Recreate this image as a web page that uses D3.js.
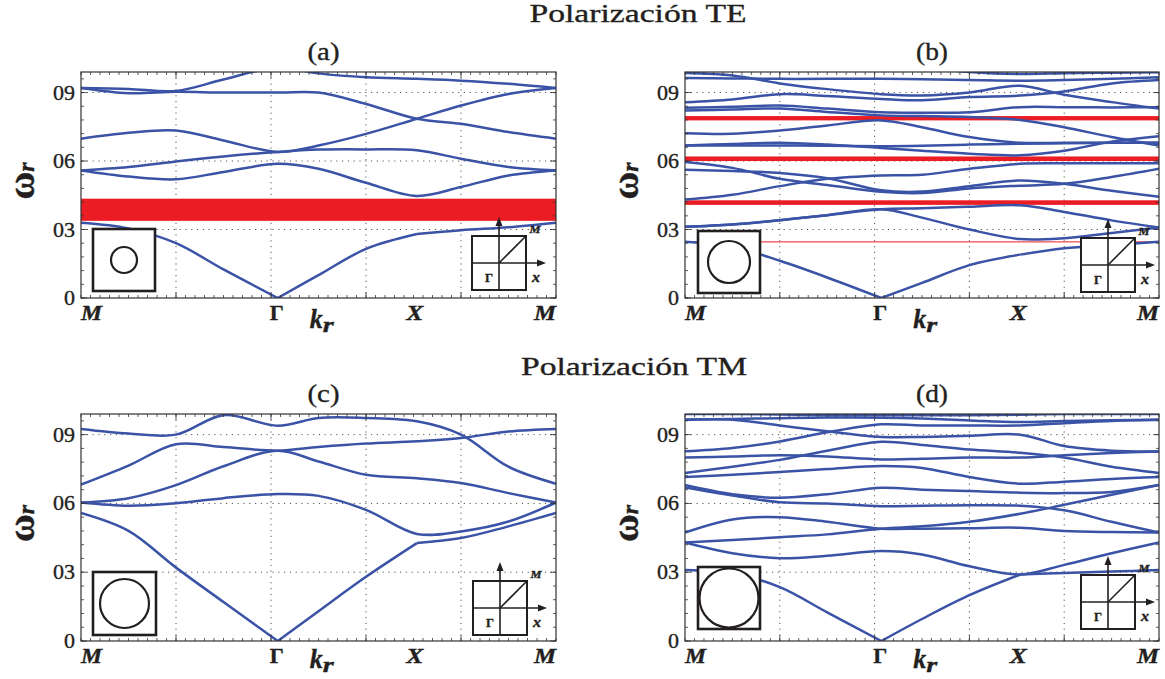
<!DOCTYPE html>
<html>
<head>
<meta charset="utf-8">
<script src="https://cdn.jsdelivr.net/npm/d3@7"></script>
<style>
  body { margin: 0; background: #fff; }
  svg { display: block; }
</style>
</head>
<body>
<svg width="1165" height="679"></svg>
<script>
// k-path positions along M - Gamma - X - M (normalised length)
const kPath = [0, 0.1, 0.2, 0.3, 0.4142, 0.5, 0.6, 0.7071, 0.8, 0.9, 1];
const kLabels = ["M", "Γ", "X", "M"];
const kLabelPos = [0, 0.4142, 0.7071, 1];
const yTicks = [0, 0.3, 0.6, 0.9];
const yTickLabels = ["0", "03", "06", "09"];
const xGrid = [0.2, 0.4, 0.6, 0.8];

// (a) TE, small rod
const bandsA = [
  [0.33, 0.305, 0.24, 0.125, 0.0, 0.10, 0.215, 0.28, 0.297, 0.31, 0.33],
  [0.559, 0.532, 0.52, 0.552, 0.588, 0.566, 0.505, 0.447, 0.486, 0.537, 0.559],
  [0.559, 0.574, 0.598, 0.62, 0.64, 0.65, 0.651, 0.647, 0.61, 0.574, 0.559],
  [0.698, 0.724, 0.734, 0.69, 0.64, 0.668, 0.719, 0.785, 0.843, 0.894, 0.92],
  [0.92, 0.897, 0.903, 0.90, 0.90, 0.90, 0.85, 0.785, 0.763, 0.727, 0.698],
  [0.92, 0.916, 0.907, 0.957, 1.01, 0.984, 0.967, 0.96, 0.952, 0.938, 0.92]
];
const gapsA = [[0.338, 0.435]];

// (b) TE, large rod
const bandsB = [
  [0.246, 0.225, 0.163, 0.09, 0.0, 0.066, 0.144, 0.19, 0.218, 0.232, 0.246],
  [0.312, 0.322, 0.341, 0.363, 0.389, 0.352, 0.30, 0.258, 0.262, 0.285, 0.309],
  [0.312, 0.322, 0.341, 0.363, 0.389, 0.393, 0.40, 0.406, 0.377, 0.34, 0.309],
  [0.431, 0.452, 0.49, 0.522, 0.537, 0.54, 0.566, 0.588, 0.59, 0.59, 0.59],
  [0.562, 0.556, 0.548, 0.525, 0.472, 0.466, 0.49, 0.515, 0.50, 0.47, 0.443],
  [0.596, 0.57, 0.522, 0.495, 0.465, 0.46, 0.48, 0.492, 0.50, 0.53, 0.566],
  [0.668, 0.668, 0.668, 0.667, 0.665, 0.667, 0.672, 0.676, 0.678, 0.68, 0.68],
  [0.668, 0.675, 0.68, 0.672, 0.657, 0.645, 0.632, 0.625, 0.645, 0.685, 0.709],
  [0.722, 0.719, 0.734, 0.756, 0.778, 0.748, 0.705, 0.68, 0.68, 0.68, 0.68],
  [0.821, 0.826, 0.83, 0.815, 0.80, 0.797, 0.793, 0.78, 0.748, 0.705, 0.668],
  [0.833, 0.838, 0.843, 0.83, 0.814, 0.812, 0.814, 0.836, 0.836, 0.835, 0.836],
  [0.858, 0.87, 0.893, 0.885, 0.872, 0.866, 0.88, 0.887, 0.905, 0.94, 0.955],
  [0.964, 0.962, 0.96, 0.96, 0.96, 0.958, 0.955, 0.952, 0.955, 0.96, 0.967],
  [0.986, 0.975, 0.94, 0.915, 0.893, 0.887, 0.90, 0.93, 0.89, 0.858, 0.83],
  [null, null, null, null, null, 1.01, 0.99, 0.981, 0.985, 0.987, 0.989]
];
const gapsB = [[0.778, 0.797], [0.600, 0.620], [0.408, 0.428], [0.245, 0.248]];

// (c) TM, medium rod
const bandsC = [
  [0.558, 0.48, 0.32, 0.17, 0.0, 0.13, 0.28, 0.427, 0.449, 0.50, 0.558],
  [0.604, 0.59, 0.601, 0.623, 0.641, 0.633, 0.572, 0.467, 0.478, 0.521, 0.604],
  [0.604, 0.623, 0.68, 0.762, 0.83, 0.783, 0.725, 0.71, 0.689, 0.645, 0.604],
  [0.682, 0.765, 0.858, 0.846, 0.83, 0.846, 0.861, 0.871, 0.885, 0.914, 0.925],
  [0.925, 0.905, 0.90, 0.985, 0.939, 0.973, 0.973, 0.958, 0.90, 0.76, 0.686]
];
const gapsC = [];

// (d) TM, touching rods
const bandsD = [
  [0.31, 0.295, 0.235, 0.125, 0.0, 0.096, 0.2, 0.29, 0.297, 0.303, 0.31],
  [0.43, 0.383, 0.361, 0.372, 0.392, 0.377, 0.326, 0.29, 0.332, 0.383, 0.43],
  [0.43, 0.44, 0.453, 0.465, 0.49, 0.50, 0.52, 0.555, 0.594, 0.638, 0.68],
  [0.473, 0.53, 0.54, 0.52, 0.49, 0.49, 0.492, 0.494, 0.48, 0.475, 0.473],
  [0.67, 0.635, 0.605, 0.60, 0.588, 0.59, 0.592, 0.59, 0.57, 0.52, 0.473],
  [0.68, 0.64, 0.625, 0.64, 0.668, 0.66, 0.654, 0.647, 0.645, 0.65, 0.68],
  [0.715, 0.725, 0.737, 0.75, 0.763, 0.755, 0.715, 0.686, 0.695, 0.707, 0.715],
  [0.733, 0.76, 0.79, 0.83, 0.869, 0.855, 0.835, 0.821, 0.80, 0.76, 0.733],
  [0.80, 0.805, 0.81, 0.805, 0.792, 0.795, 0.80, 0.80, 0.81, 0.82, 0.827],
  [0.827, 0.842, 0.87, 0.91, 0.945, 0.94, 0.94, 0.94, 0.95, 0.96, 0.965],
  [0.965, 0.965, 0.94, 0.915, 0.89, 0.89, 0.895, 0.90, 0.85, 0.83, 0.827],
  [0.99, 0.99, 0.988, 0.985, 0.985, 0.985, 0.985, 0.987, 0.99, 0.99, 0.99],
  [0.965, 0.968, 0.972, 0.975, 0.974, 0.97, 0.962, 0.955, 0.96, 0.963, 0.965]
];
const gapsD = [];

const panels = [
  { id: "a", bands: bandsA, gaps: gapsA, x0: 81, x1: 556, y0: 72, y1: 298, rod: { x: 12, y: 69, s: 62, r: 13 }, bz: { x: 391, y: 62 }, kr: 30 },
  { id: "b", bands: bandsB, gaps: gapsB, x0: 685, x1: 1159, y0: 72, y1: 298, rod: { x: 13, y: 67, s: 62, r: 21 }, bz: { x: 396, y: 60 }, kr: 30 },
  { id: "c", bands: bandsC, gaps: gapsC, x0: 81, x1: 556, y0: 414, y1: 641, rod: { x: 12, y: 69, s: 63, r: 24.5 }, bz: { x: 392, y: 60 }, kr: 27 },
  { id: "d", bands: bandsD, gaps: gapsD, x0: 685, x1: 1159, y0: 414, y1: 641, rod: { x: 13, y: 74, s: 62, r: 29.5 }, bz: { x: 396, y: 66 }, kr: 27 }
];

const svg = d3.select("svg");
const serif = "Liberation Serif, Times New Roman, serif";
const blue = "#3a53a6";
const red = "#ec1c24";
const ink = "#231f20";

function label(g, txt, x, y, size, width, anchor, opts) {
  const t = g.append("text")
    .attr("x", x).attr("y", y)
    .attr("font-family", serif)
    .attr("font-size", size)
    .attr("fill", ink)
    .attr("stroke", ink).attr("stroke-width", 0.35)
    .attr("text-anchor", anchor || "middle")
    .text(txt);
  if (width) t.attr("textLength", width).attr("lengthAdjust", "spacingAndGlyphs");
  if (opts && opts.italic) t.attr("font-style", "italic");
  if (opts && opts.bold) t.attr("font-weight", "bold");
  return t;
}

// big titles
label(svg, "Polarización TE", 638, 22, 26, 217);
label(svg, "Polarización TM", 634, 375, 26, 226);

// index of Gamma and X inside kPath, the lowest band bends sharply there
const iG = kPath.indexOf(0.4142), iX = kPath.indexOf(0.7071);

panels.forEach((p, pi) => {
  const g = svg.append("g");
  const x = d3.scaleLinear().domain([0, 1]).range([p.x0, p.x1]);
  const y = d3.scaleLinear().domain([0, 0.99]).range([p.y1, p.y0]);

  const clipId = "clip-" + p.id;
  g.append("clipPath").attr("id", clipId)
    .append("rect").attr("x", p.x0).attr("y", p.y0)
    .attr("width", p.x1 - p.x0).attr("height", p.y1 - p.y0);

  // dotted grid
  g.selectAll(".vg").data(xGrid).enter().append("line")
    .attr("x1", d => x(d)).attr("x2", d => x(d))
    .attr("y1", p.y0).attr("y2", p.y1)
    .attr("stroke", "#555").attr("stroke-width", 1)
    .attr("stroke-dasharray", "1.2,4.6");
  g.selectAll(".hg").data(yTicks.slice(1)).enter().append("line")
    .attr("x1", p.x0).attr("x2", p.x1)
    .attr("y1", d => y(d)).attr("y2", d => y(d))
    .attr("stroke", "#555").attr("stroke-width", 1)
    .attr("stroke-dasharray", "1.2,4.6");

  // band gaps
  g.selectAll(".gap").data(p.gaps).enter().append("rect")
    .attr("x", p.x0).attr("width", p.x1 - p.x0)
    .attr("y", d => y(d[1]))
    .attr("height", d => Math.max(1, y(d[0]) - y(d[1])))
    .attr("fill", red);

  // bands
  const line = d3.line()
    .defined(d => d[1] != null)
    .x(d => x(d[0]))
    .y(d => y(d[1]))
    .curve(d3.curveCatmullRom.alpha(0.5));
  const segs = [];
  p.bands.forEach((b, bi) => {
    const pts = b.map((v, i) => [kPath[i], v]);
    if (bi === 0) {
      segs.push(pts.slice(0, iG + 1), pts.slice(iG, iX + 1), pts.slice(iX));
    } else {
      segs.push(pts);
    }
  });
  g.append("g").attr("clip-path", "url(#" + clipId + ")")
    .selectAll("path").data(segs).enter().append("path")
    .attr("d", line)
    .attr("fill", "none")
    .attr("stroke", blue)
    .attr("stroke-width", 2.5)
    .attr("stroke-linejoin", "round");

  // ticks (inward) on all four sides
  const minorY = d3.range(0, 0.99, 0.06);
  const minorX = d3.range(0, 1.0001, 0.02);
  const tk = g.append("g").attr("stroke", "#333").attr("stroke-width", 0.8);
  minorY.forEach(v => {
    tk.append("line").attr("x1", p.x0).attr("x2", p.x0 + 3).attr("y1", y(v)).attr("y2", y(v));
    tk.append("line").attr("x1", p.x1).attr("x2", p.x1 - 3).attr("y1", y(v)).attr("y2", y(v));
  });
  minorX.forEach(v => {
    tk.append("line").attr("x1", x(v)).attr("x2", x(v)).attr("y1", p.y1).attr("y2", p.y1 - 3);
    tk.append("line").attr("x1", x(v)).attr("x2", x(v)).attr("y1", p.y0).attr("y2", p.y0 + 3);
  });
  yTicks.forEach(v => {
    tk.append("line").attr("x1", p.x0).attr("x2", p.x0 + 6).attr("y1", y(v)).attr("y2", y(v));
    tk.append("line").attr("x1", p.x1).attr("x2", p.x1 - 6).attr("y1", y(v)).attr("y2", y(v));
  });
  xGrid.forEach(v => {
    tk.append("line").attr("x1", x(v)).attr("x2", x(v)).attr("y1", p.y1).attr("y2", p.y1 - 6);
    tk.append("line").attr("x1", x(v)).attr("x2", x(v)).attr("y1", p.y0).attr("y2", p.y0 + 6);
  });

  // frame
  g.append("rect").attr("x", p.x0).attr("y", p.y0)
    .attr("width", p.x1 - p.x0).attr("height", p.y1 - p.y0)
    .attr("fill", "none").attr("stroke", "#333").attr("stroke-width", 1.2);

  // y tick labels
  yTicks.forEach((v, i) => {
    label(g, yTickLabels[i], p.x0 - 6, y(v) + 7, 21, yTickLabels[i].length === 1 ? 11 : 22, "end");
  });

  // k-point labels
  const by = p.y1 + 22;
  label(g, kLabels[0], p.x0, by, 20, 21, "start", { italic: true, bold: true });
  label(g, kLabels[1], x(kLabelPos[1]) - 1, by, 20, 14, "middle", { bold: true });
  label(g, kLabels[2], x(kLabelPos[2]) - 2, by, 20, 17, "middle", { italic: true, bold: true });
  label(g, kLabels[3], p.x1, by, 20, 22, "end", { italic: true, bold: true });

  // k_r axis label
  const kx = x(kLabelPos[1]) + 32;
  label(g, "k", kx, p.y1 + p.kr, 27, 13, "start", { italic: true, bold: true });
  label(g, "r", kx + 13, p.y1 + p.kr + 4, 20, 11, "start", { italic: true, bold: true });

  // omega_r axis label (rotated)
  const wx = p.x0 - 47, wy = (p.y0 + p.y1) / 2 - 4;
  const wt = g.append("text")
    .attr("transform", "translate(" + wx + "," + wy + ") rotate(-90)")
    .attr("font-family", serif).attr("fill", ink)
    .attr("stroke", ink).attr("stroke-width", 0.4)
    .attr("text-anchor", "middle");
  wt.append("tspan").attr("font-size", 38).attr("font-weight", "bold").text("ω");
  wt.append("tspan").attr("font-size", 24).attr("font-style", "italic").attr("font-weight", "bold").text("r");

  // panel tag
  label(svg, "(" + p.id + ")", (p.x0 + p.x1) / 2 + (pi % 2 ? 10 : 5), p.y0 - 12, 26, 32);

  // unit cell inset (rod in square)
  const rx = p.x0 + p.rod.x, ry = p.y1 - p.rod.y;
  g.append("rect").attr("x", rx).attr("y", ry)
    .attr("width", p.rod.s).attr("height", p.rod.s)
    .attr("fill", "#fff").attr("stroke", ink).attr("stroke-width", 2.6);
  g.append("circle").attr("cx", rx + p.rod.s / 2).attr("cy", ry + p.rod.s / 2)
    .attr("r", p.rod.r)
    .attr("fill", "none").attr("stroke", ink).attr("stroke-width", 2.2);

  // Brillouin zone inset
  const bx = p.x0 + p.bz.x, byy = p.y1 - p.bz.y, s = 54;
  const cx = bx + s / 2, cy = byy + s / 2;
  const bz = g.append("g").attr("stroke", ink).attr("stroke-width", 1.6).attr("fill", "none");
  bz.append("rect").attr("x", bx).attr("y", byy).attr("width", s).attr("height", s)
    .attr("fill", "#fff").attr("stroke-width", 2);
  bz.append("line").attr("x1", cx).attr("x2", cx).attr("y1", byy + s).attr("y2", byy - 13);
  bz.append("line").attr("x1", bx).attr("x2", bx + s + 14).attr("y1", cy).attr("y2", cy);
  bz.append("line").attr("x1", cx).attr("y1", cy).attr("x2", bx + s).attr("y2", byy);
  g.append("path")
    .attr("d", "M" + cx + "," + (byy - 19) + " l-3.5,9 l7,0 z")
    .attr("fill", ink);
  g.append("path")
    .attr("d", "M" + (bx + s + 20) + "," + cy + " l-9,-3.5 l0,7 z")
    .attr("fill", ink);
  label(g, "M", bx + s + 9, byy - 3, 11, 11, "middle", { italic: true, bold: true });
  label(g, "x", bx + s + 10, byy + 46, 14, 8, "middle", { italic: true, bold: true });
  label(g, "Γ", bx + 17, byy + 46, 13, 8, "middle", { bold: true });
});
</script>
</body>
</html>
